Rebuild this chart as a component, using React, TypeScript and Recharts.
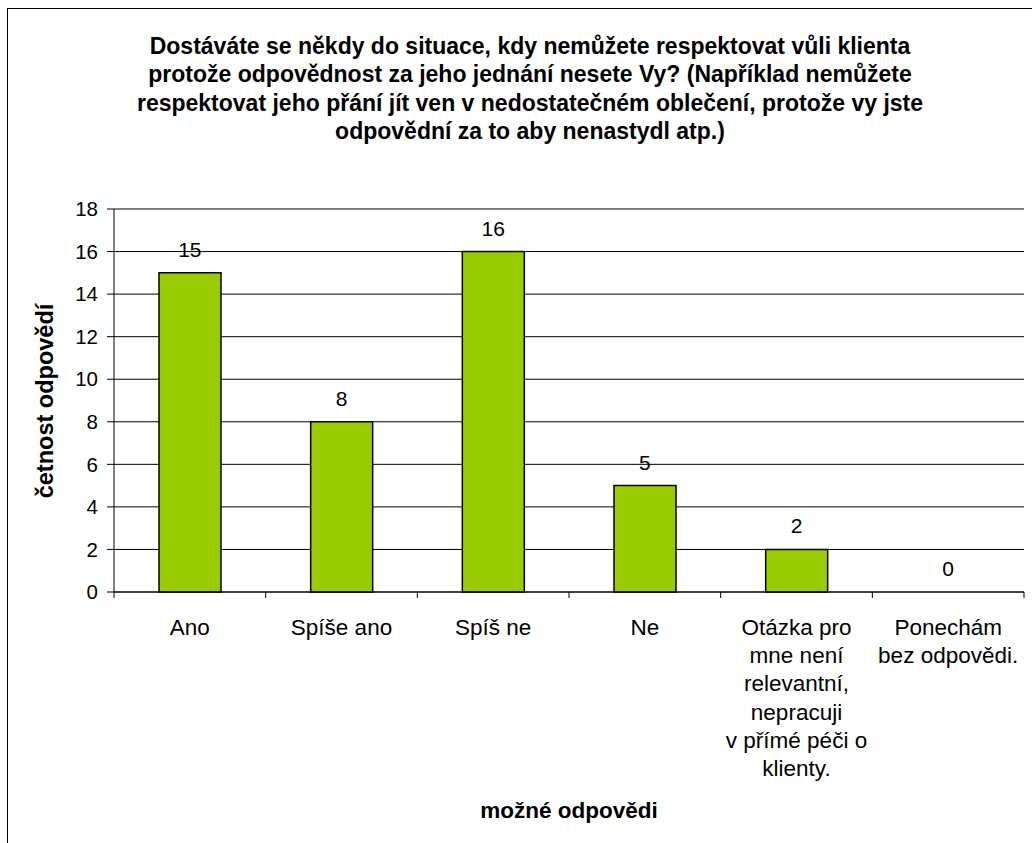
import React from 'react';
import {
    ComposedChart,
    Bar,
    Line,
    XAxis,
    YAxis,
    CartesianGrid,
    LabelList,
} from 'recharts';

const title = [
    'Dostáváte se někdy do situace, kdy nemůžete respektovat vůli klienta',
    'protože odpovědnost za jeho jednání nesete Vy? (Například nemůžete',
    'respektovat jeho přání jít ven v nedostatečném oblečení, protože vy jste',
    'odpovědní za to aby nenastydl atp.)',
];

const answers = [
    'Ano',
    'Spíše ano',
    'Spíš ne',
    'Ne',
    'Otázka pro\nmne není\nrelevantní,\nnepracuji\nv přímé péči o\nklienty.',
    'Ponechám\nbez odpovědi.',
];

const counts = [15, 8, 16, 5, 2, 0];

const yTicks = [0, 2, 4, 6, 8, 10, 12, 14, 16, 18];

const data = answers.map((name, i) => ({ name, value: counts[i] }));

const FONT = '"Liberation Sans", Arial, sans-serif';
const W = 1032;
const H = 843;
const PLOT_LEFT = 114;
const PLOT_TOP = 209;
const PLOT_RIGHT = 1024;
const PLOT_BOTTOM = 592;
const Y_AXIS_W = 60;
const X_AXIS_H = 200;

// multi-line category label plus the boundary tick marks of its band
function CategoryTick(props: any) {
    const { x, y, payload, index, width, visibleTicksCount } = props;
    const count = visibleTicksCount || answers.length;
    const band = (width || PLOT_RIGHT - PLOT_LEFT) / count;
    const lines = String(payload.value).split('\n');
    const left = x - band / 2;
    return (
        <g>
            <line x1={left} x2={left} y1={y} y2={y + 6} stroke="#000" />
            {index === count - 1 && (
                <line x1={left + band} x2={left + band} y1={y} y2={y + 6} stroke="#000" />
            )}
            <text x={x} y={y + 43} textAnchor="middle" fill="#000" fontSize={22.5} fontFamily={FONT}>
                {lines.map((line, i) => (
                    <tspan key={i} x={x} dy={i === 0 ? 0 : 28.2}>
                        {line}
                    </tspan>
                ))}
            </text>
        </g>
    );
}

export default function App() {
    return (
        <div style={{ position: 'relative', width: W, height: H, overflow: 'hidden', background: '#fff', fontFamily: FONT }}>
            <style>{'body{margin:0}'}</style>
            <div
                style={{
                    position: 'absolute',
                    left: 7,
                    top: 8,
                    width: W,
                    height: H,
                    borderTop: '1px solid #000',
                    borderLeft: '1px solid #000',
                }}
            />
            <div
                style={{
                    position: 'absolute',
                    left: 30,
                    top: 32,
                    width: 1000,
                    textAlign: 'center',
                    fontWeight: 'bold',
                    fontSize: 23,
                    lineHeight: '28.3px',
                    color: '#000',
                    whiteSpace: 'nowrap',
                }}
            >
                {title.map((t, i) => (
                    <div key={i}>{t}</div>
                ))}
            </div>
            <div
                style={{
                    position: 'absolute',
                    left: 45,
                    top: (PLOT_TOP + PLOT_BOTTOM) / 2,
                    transform: 'translate(-50%, -50%) rotate(-90deg)',
                    whiteSpace: 'nowrap',
                    fontWeight: 'bold',
                    fontSize: 23.5,
                    color: '#000',
                }}
            >
                četnost odpovědí
            </div>
            <div
                style={{
                    position: 'absolute',
                    left: (PLOT_LEFT + PLOT_RIGHT) / 2,
                    top: 811,
                    transform: 'translate(-50%, -50%)',
                    whiteSpace: 'nowrap',
                    fontWeight: 'bold',
                    fontSize: 22.5,
                    color: '#000',
                }}
            >
                možné odpovědi
            </div>
            <div style={{ position: 'absolute', left: 0, top: 0 }}>
                <ComposedChart
                    width={W}
                    height={H}
                    data={data}
                    margin={{
                        top: PLOT_TOP,
                        right: W - PLOT_RIGHT,
                        bottom: H - PLOT_BOTTOM - X_AXIS_H,
                        left: PLOT_LEFT - Y_AXIS_W,
                    }}
                >
                    <CartesianGrid vertical={false} stroke="#000" />
                    <XAxis
                        dataKey="name"
                        height={X_AXIS_H}
                        interval={0}
                        tickLine={false}
                        tickSize={0}
                        tickMargin={0}
                        axisLine={{ stroke: '#000' }}
                        tick={<CategoryTick />}
                    />
                    <XAxis
                        xAxisId="top"
                        orientation="top"
                        dataKey="name"
                        height={0}
                        tick={false}
                        tickLine={false}
                        axisLine={{ stroke: '#808080', strokeWidth: 2 }}
                    />
                    <YAxis
                        width={Y_AXIS_W}
                        domain={[0, 18]}
                        ticks={yTicks}
                        interval={0}
                        tickSize={7}
                        tickMargin={9}
                        axisLine={{ stroke: '#000' }}
                        tickLine={{ stroke: '#000' }}
                        tick={{ fill: '#000', fontSize: 20.5, fontFamily: FONT }}
                    />
                    <YAxis
                        yAxisId="right"
                        orientation="right"
                        width={0}
                        domain={[0, 18]}
                        tick={false}
                        tickLine={false}
                        axisLine={{ stroke: '#808080', strokeWidth: 2 }}
                    />
                    <Bar
                        dataKey="value"
                        fill="#99CC00"
                        stroke="#000"
                        strokeWidth={1.5}
                        barSize={62}
                        isAnimationActive={false}
                    />
                    {/* value labels ride on an invisible line so the zero bar gets one too */}
                    <Line
                        dataKey="value"
                        stroke="none"
                        dot={false}
                        activeDot={false}
                        isAnimationActive={false}
                    >
                        <LabelList
                            dataKey="value"
                            position="top"
                            offset={16}
                            fill="#000"
                            fontSize={21}
                            fontFamily={FONT}
                        />
                    </Line>
                </ComposedChart>
            </div>
        </div>
    );
}
